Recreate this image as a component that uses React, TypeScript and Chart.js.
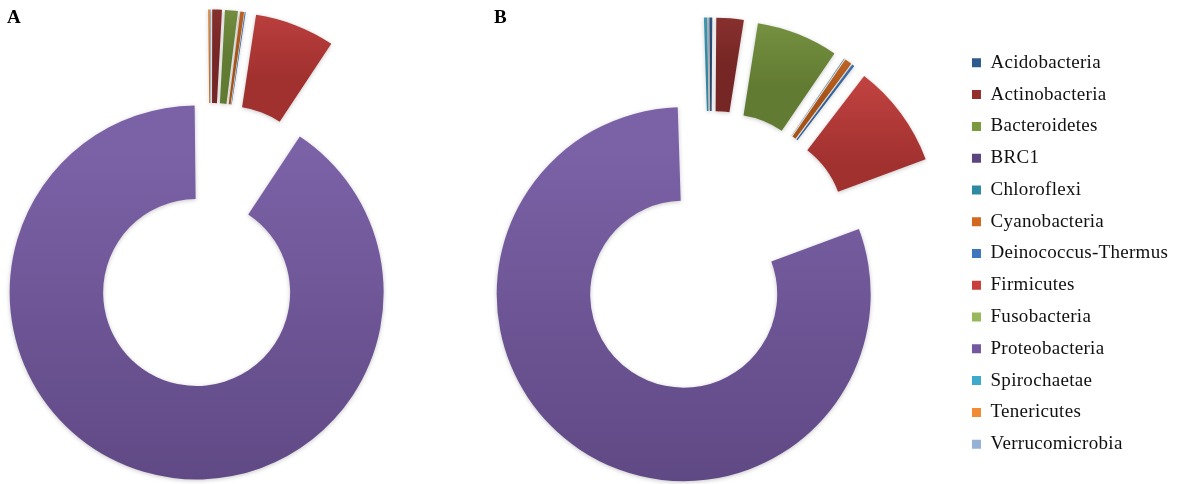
import React, { useEffect, useRef } from 'react';
import { Chart, registerables } from 'chart.js';

Chart.register(...registerables);

// Bacterial phyla, in legend order
const PHYLA = [
  'Acidobacteria',
  'Actinobacteria',
  'Bacteroidetes',
  'BRC1',
  'Chloroflexi',
  'Cyanobacteria',
  'Deinococcus-Thermus',
  'Firmicutes',
  'Fusobacteria',
  'Proteobacteria',
  'Spirochaetae',
  'Tenericutes',
  'Verrucomicrobia',
];

// Relative abundance (%) per phylum
const SAMPLE_A = [0.03, 0.83, 1.11, 0, 0.01, 0.33, 0.08, 6.91, 0, 90.51, 0, 0.14, 0.03];
const SAMPLE_B = [0.25, 2.36, 7.06, 0.01, 0.04, 0.61, 0.22, 8.92, 0, 80.17, 0.28, 0.03, 0.06];

const PANEL_LABELS = ['A', 'B'];

const PHYLUM_COLORS = [
  '#2E5B8E',
  '#93302D',
  '#7A9A3E',
  '#5B4580',
  '#2E8AA2',
  '#D2691E',
  '#3F76BC',
  '#C93D3B',
  '#97B85B',
  '#7357A0',
  '#3EAACB',
  '#F28C34',
  '#95B1D6',
];

const SERIF = '"Liberation Serif", "Times New Roman", serif';
const EXPLODE = 49;
const RADIUS = 187;

// legend geometry
const LEG_FONT = 19;
const LEG_PAD = 12.78;
const LEG_BOX = 9;
const LEG_SPACING = '0.3px';
const LEG_LEFT = 959.2;
const B_LEFT = 440;

function mix(hex: string, target: number, amount: number): string {
  const n = parseInt(hex.slice(1), 16);
  const ch = [(n >> 16) & 255, (n >> 8) & 255, n & 255].map((c) =>
    Math.round(c + (target - c) * amount)
  );
  return `rgb(${ch[0]},${ch[1]},${ch[2]})`;
}

// Draws each slice pulled out from the centre along its bisector, with a soft top-to-bottom shading
const explodePlugin = {
  id: 'explodeSlices',
  beforeLayout(chart: any) {
    chart.ctx.letterSpacing = LEG_SPACING;
  },
  beforeDatasetDraw(chart: any, args: any) {
    const ctx: CanvasRenderingContext2D = chart.ctx;
    args.meta.data.forEach((arc: any) => {
      const { startAngle, endAngle, outerRadius, innerRadius, x, y } = arc.getProps([
        'startAngle',
        'endAngle',
        'outerRadius',
        'innerRadius',
        'x',
        'y',
      ]);
      if (!(endAngle - startAngle > 0)) return;
      const mid = (startAngle + endAngle) / 2;
      const dx = Math.cos(mid) * EXPLODE;
      const dy = Math.sin(mid) * EXPLODE;
      let top = Infinity;
      let bottom = -Infinity;
      const steps = 90;
      for (let k = 0; k <= steps; k++) {
        const a = startAngle + ((endAngle - startAngle) * k) / steps;
        for (const r of [innerRadius, outerRadius]) {
          const yy = y + dy + Math.sin(a) * r;
          top = Math.min(top, yy);
          bottom = Math.max(bottom, yy);
        }
      }
      const saved = arc.options;
      const base = saved.backgroundColor as string;
      const grad = ctx.createLinearGradient(0, top, 0, bottom + 1);
      grad.addColorStop(0, mix(base, 255, 0.06));
      grad.addColorStop(1, mix(base, 0, 0.2));
      arc.options = Object.assign({}, saved, { backgroundColor: grad, borderWidth: 0 });
      ctx.save();
      ctx.translate(dx, dy);
      ctx.shadowColor = 'rgba(0,0,0,0.22)';
      ctx.shadowBlur = 4;
      ctx.shadowOffsetY = 1;
      arc.draw(ctx);
      ctx.restore();
      arc.options = saved;
    });
    return false;
  },
};

function legendWidth(): number {
  const c = document.createElement('canvas').getContext('2d') as any;
  c.font = `${LEG_FONT}px ${SERIF}`;
  c.letterSpacing = LEG_SPACING;
  const maxText = Math.max(...PHYLA.map((p) => c.measureText(p).width));
  return LEG_PAD + LEG_BOX + LEG_FONT / 2 + maxText + 10;
}

function makeConfig(values: number[], rotation: number, withLegend: boolean, padding: any): any {
  return {
    type: 'doughnut',
    data: {
      labels: PHYLA,
      datasets: [
        {
          data: values,
          backgroundColor: PHYLUM_COLORS,
          borderWidth: 0,
        },
      ],
    },
    options: {
      responsive: false,
      animation: false,
      radius: RADIUS,
      cutout: '50%',
      rotation,
      layout: { padding },
      events: [],
      plugins: {
        tooltip: { enabled: false },
        legend: {
          display: withLegend,
          position: 'right',
          align: 'center',
          labels: {
            boxWidth: LEG_BOX,
            boxHeight: LEG_BOX,
            padding: LEG_PAD,
            color: '#111',
            font: { family: SERIF, size: LEG_FONT },
          },
        },
      },
    },
    plugins: [explodePlugin],
  };
}

export default function App() {
  const refA = useRef<HTMLCanvasElement>(null);
  const refB = useRef<HTMLCanvasElement>(null);
  const legW = legendWidth();
  const bWidth = Math.ceil(LEG_LEFT + legW - B_LEFT);
  const bPadRight = B_LEFT + bWidth - LEG_LEFT - legW;

  useEffect(() => {
    document.body.style.margin = '0';
    const a = new Chart(refA.current as HTMLCanvasElement, makeConfig(SAMPLE_A, 0, false, { top: 7 }));
    const b = new Chart(
      refB.current as HTMLCanvasElement,
      makeConfig(SAMPLE_B, -0.5, true, { top: 23, left: 462.8 - B_LEFT, right: bPadRight, bottom: 0 })
    );
    return () => {
      a.destroy();
      b.destroy();
    };
  }, []);

  const labelStyle = (left: number): React.CSSProperties => ({
    position: 'absolute',
    left,
    top: 7,
    font: `bold 19px ${SERIF}`,
    lineHeight: 1,
    color: '#000',
  });

  return (
    <div
      style={{
        position: 'fixed',
        left: 0,
        top: 0,
        width: 1181,
        height: 484,
        overflow: 'hidden',
        background: '#fff',
      }}
    >
      <canvas
        ref={refA}
        width={421}
        height={484}
        style={{ position: 'absolute', left: 0, top: 0, display: 'block' }}
      />
      <canvas
        ref={refB}
        width={bWidth}
        height={484}
        style={{ position: 'absolute', left: B_LEFT, top: 0, display: 'block' }}
      />
      <div style={labelStyle(7)}>{PANEL_LABELS[0]}</div>
      <div style={labelStyle(494)}>{PANEL_LABELS[1]}</div>
    </div>
  );
}
